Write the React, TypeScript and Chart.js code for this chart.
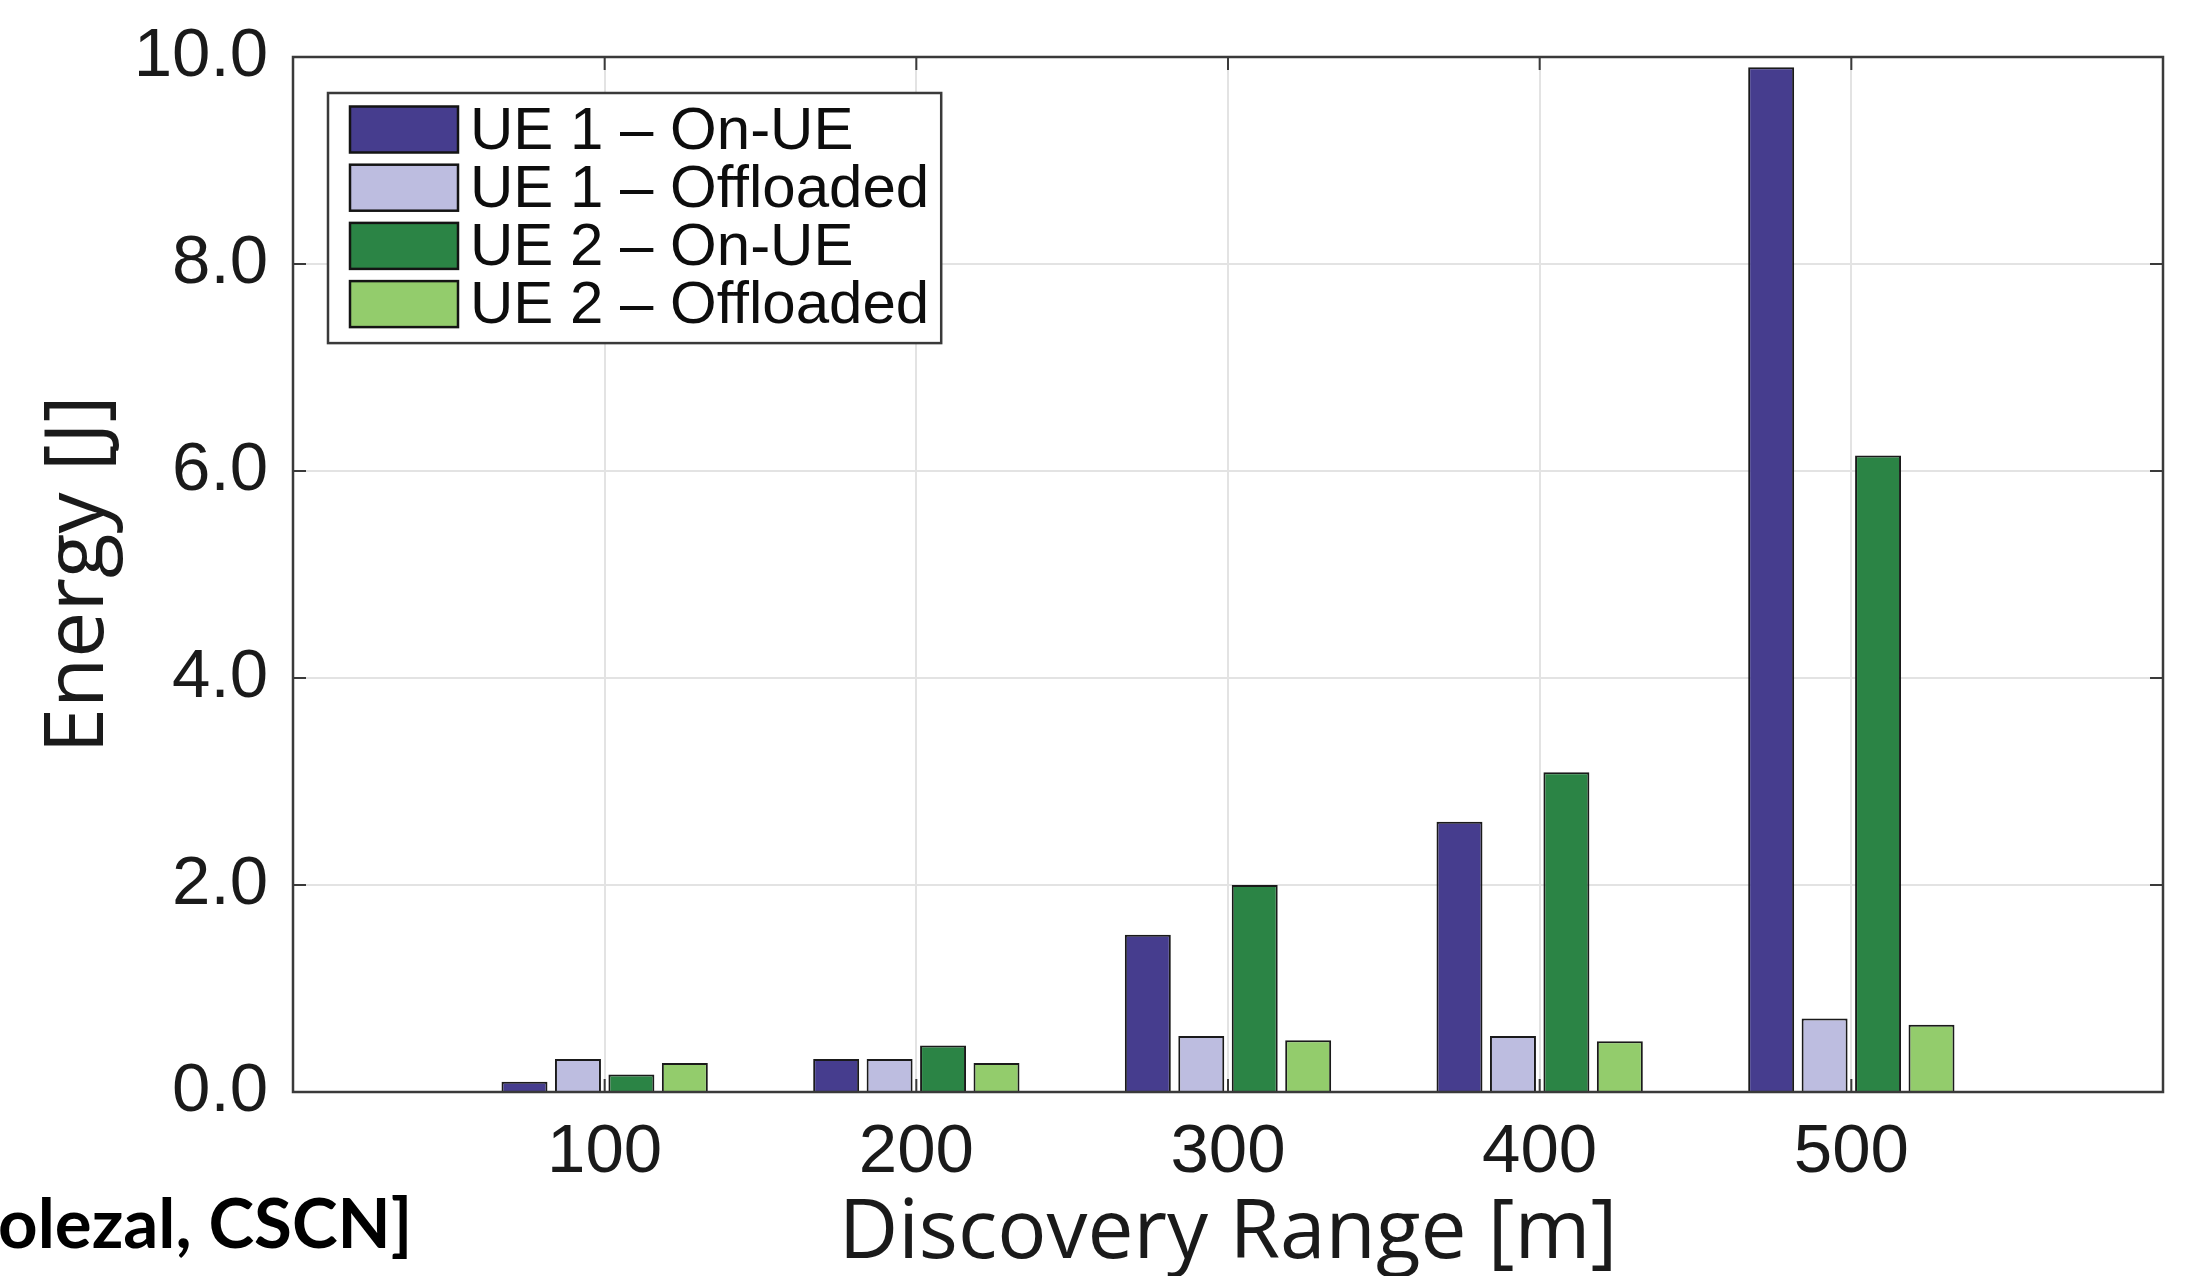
import React, { useEffect, useRef } from 'react';
import { Chart, registerables } from 'chart.js';

Chart.register(...registerables);

const categories = [100, 200, 300, 400, 500];
const seriesLabels = ['UE 1 – On-UE', 'UE 1 – Offloaded', 'UE 2 – On-UE', 'UE 2 – Offloaded'];
const ue1OnUE = [0.1, 0.32, 1.52, 2.61, 9.9];
const ue1Offloaded = [0.32, 0.32, 0.54, 0.54, 0.71];
const ue2OnUE = [0.17, 0.45, 2.0, 3.09, 6.15];
const ue2Offloaded = [0.28, 0.28, 0.5, 0.49, 0.65];
const seriesColors = ['#463d8e', '#bdbde0', '#2b8445', '#93cc6c'];
const yTickValues = [0, 2, 4, 6, 8, 10];
const xTitle = 'Discovery Range [m]';
const yTitle = 'Energy [J]';
const sourceNote = 'olezal, CSCN]';

const W = 2190;
const H = 1276;

const framePlugin = {
  id: 'matlabFrame',
  afterDatasetsDraw(chart: any) {
    const { ctx, chartArea: ca, scales } = chart;
    ctx.save();
    ctx.strokeStyle = '#3a3a3a';
    ctx.lineWidth = 2.5;
    ctx.strokeRect(ca.left, ca.top, ca.right - ca.left, ca.bottom - ca.top);
    const tl = 13;
    ctx.lineWidth = 2;
    ctx.beginPath();
    yTickValues.forEach((v) => {
      const y = scales.y.getPixelForValue(v);
      ctx.moveTo(ca.left, y);
      ctx.lineTo(ca.left + tl, y);
      ctx.moveTo(ca.right, y);
      ctx.lineTo(ca.right - tl, y);
    });
    categories.forEach((c) => {
      const x = scales.x.getPixelForValue(c);
      ctx.moveTo(x, ca.bottom);
      ctx.lineTo(x, ca.bottom - tl);
      ctx.moveTo(x, ca.top);
      ctx.lineTo(x, ca.top + tl);
    });
    ctx.stroke();
    ctx.restore();
  },
  afterDraw(chart: any) {
    const { ctx, chartArea: ca } = chart;
    ctx.save();
    // legend box inside plot
    ctx.font = '60px "Liberation Sans", Arial, sans-serif';
    const ds = chart.data.datasets;
    let maxW = 0;
    ds.forEach((d: any) => {
      maxW = Math.max(maxW, ctx.measureText(d.label).width);
    });
    const bx = ca.left + 35;
    const by = ca.top + 36;
    const padL = 22;
    const swW = 108;
    const swH = 46;
    const gap = 12;
    const padR = 12;
    const rowH = 58.2;
    const firstC = 36.5;
    const lastPad = 39;
    const bw = padL + swW + gap + maxW + padR;
    const bh = firstC + lastPad + rowH * (ds.length - 1);
    ctx.fillStyle = '#ffffff';
    ctx.fillRect(bx, by, bw, bh);
    ctx.strokeStyle = '#3a3a3a';
    ctx.lineWidth = 2.5;
    ctx.strokeRect(bx, by, bw, bh);
    ds.forEach((d: any, i: number) => {
      const cy = by + firstC + i * rowH;
      ctx.fillStyle = d.backgroundColor;
      ctx.fillRect(bx + padL, cy - swH / 2, swW, swH);
      ctx.strokeStyle = '#141414';
      ctx.lineWidth = 2.5;
      ctx.strokeRect(bx + padL, cy - swH / 2, swW, swH);
      ctx.fillStyle = '#0d0d0d';
      ctx.textBaseline = 'alphabetic';
      ctx.textAlign = 'left';
      ctx.fillText(d.label, bx + padL + swW + gap, cy + 19);
    });
    // source note at bottom-left
    ctx.font = 'bold 69px Lato, "Open Sans", sans-serif';
    ctx.fillStyle = '#000000';
    ctx.textBaseline = 'alphabetic';
    ctx.textAlign = 'left';
    ctx.fillText(sourceNote, -2, 1248);
    ctx.restore();
  },
};

export default function App() {
  const canvasRef = useRef<HTMLCanvasElement | null>(null);

  useEffect(() => {
    const canvas = canvasRef.current;
    if (!canvas) return;
    const seriesValues = [ue1OnUE, ue1Offloaded, ue2OnUE, ue2Offloaded];
    const chart = new Chart(canvas, {
      type: 'bar',
      data: {
        datasets: seriesValues.map((vals, i) => ({
          label: seriesLabels[i],
          data: categories.map((c, j) => ({ x: c, y: vals[j] })),
          backgroundColor: seriesColors[i],
          borderColor: '#1a1a1a',
          borderWidth: 2,
          borderSkipped: 'start',
          barPercentage: 0.86,
          categoryPercentage: 0.686,
        })),
      },
      options: {
        animation: false,
        responsive: false,
        maintainAspectRatio: false,
        devicePixelRatio: 1,
        layout: { padding: { top: 57, right: 27, left: 0, bottom: 0 } },
        plugins: {
          legend: { display: false },
          tooltip: { enabled: false },
        },
        scales: {
          x: {
            type: 'linear',
            min: 0,
            max: 600,
            offset: false,
            afterFit: (scale: any) => {
              scale.height = 184;
              scale.paddingLeft = 0;
              scale.paddingRight = 0;
            },
            grid: { color: '#e3e3e3', lineWidth: 2, drawTicks: false, offset: false },
            border: { display: false },
            ticks: {
              stepSize: 100,
              padding: 20,
              color: '#1a1a1a',
              font: { family: '"Liberation Sans", Arial, sans-serif', size: 69 },
              callback: (v: any) => (categories.includes(Number(v)) ? String(v) : ''),
              maxRotation: 0,
              autoSkip: false,
            },
            title: {
              display: true,
              text: xTitle,
              color: '#1a1a1a',
              font: { family: '"Open Sans", sans-serif', size: 82, lineHeight: 1 },
              padding: { top: 0, bottom: 0 },
            },
          },
          y: {
            type: 'linear',
            min: 0,
            max: 10,
            afterFit: (scale: any) => {
              scale.width = 293;
              scale.paddingTop = 20;
              scale.paddingBottom = 20;
            },
            grid: { color: '#e3e3e3', lineWidth: 2, drawTicks: false },
            border: { display: false },
            ticks: {
              stepSize: 2,
              padding: 25,
              color: '#1a1a1a',
              font: { family: '"Liberation Sans", Arial, sans-serif', size: 69 },
              callback: (v: any) => Number(v).toFixed(1),
            },
            title: {
              display: true,
              text: yTitle,
              color: '#1a1a1a',
              font: { family: '"Open Sans", sans-serif', size: 82, lineHeight: 1 },
              padding: { top: 39, bottom: 0 },
            },
          },
        },
      },
      plugins: [framePlugin],
    } as any);
    return () => chart.destroy();
  }, []);

  return (
    <div
      style={{
        position: 'fixed',
        left: 0,
        top: 0,
        width: W,
        height: H,
        background: '#ffffff',
        overflow: 'hidden',
      }}
    >
      <canvas ref={canvasRef} width={W} height={H} style={{ width: W, height: H, display: 'block' }} />
    </div>
  );
}
